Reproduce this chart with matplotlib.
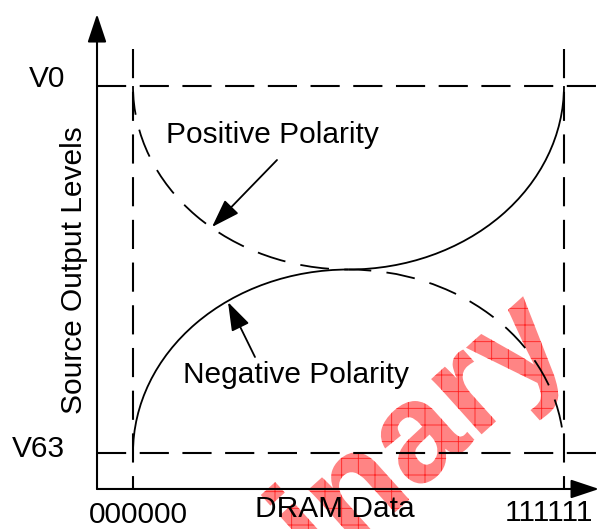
import matplotlib
matplotlib.use('Agg')
import matplotlib.pyplot as plt
from matplotlib.patches import Arc, PathPatch
from matplotlib.textpath import TextPath
from matplotlib.font_manager import FontProperties
from matplotlib import transforms

plt.rcParams['font.family'] = ['Liberation Sans', 'DejaVu Sans']
plt.rcParams['hatch.linewidth'] = 0.6
plt.rcParams['hatch.color'] = '#ff2020'

# datos del diagrama
dram_codes = [0, 63]              # 000000 .. 111111
code_labels = ['000000', '111111']
levels = [63, 0]                  # V0 arriba, V63 abajo
level_labels = ['V0', 'V63']
mid_code = (dram_codes[0] + dram_codes[1]) / 2
mid_level = (levels[0] + levels[1]) / 2

fig = plt.figure(figsize=(6.01, 5.29), dpi=100)
ax = fig.add_axes([0, 0, 1, 1])
ax.set_xlim(-19.44, 68.41)
ax.set_ylim(-13.05, 77.77)
ax.axis('off')

x0, y0 = -5.26, -6.18   # cruce de los ejes
fs = 21.5

# marca de agua
tp = TextPath((0, 0), 'Preliminary', size=102,
              prop=FontProperties(family='Liberation Sans', weight='bold'))
tr = (transforms.Affine2D().scale(1 / 72).rotate_deg(42) + fig.dpi_scale_trans
      + transforms.ScaledTranslation(-19.4, -71.2, ax.transData))
ax.add_patch(PathPatch(tp, transform=tr, facecolor='#ff8484', edgecolor='#ff2020',
                       lw=0, hatch='+', zorder=0.5))

# ejes con flecha
head = dict(arrowstyle='-|>,head_length=0.6,head_width=0.2', mutation_scale=29,
            color='k', lw=1.5, shrinkA=0, shrinkB=0)
ax.annotate('', xy=(x0, 75.36), xytext=(x0, y0), arrowprops=head)
ax.annotate('', xy=(68.12, y0), xytext=(x0, y0), arrowprops=head)

# lineas guia discontinuas
dash = (0, (14, 6.5))
for lv in levels:
    ax.plot([x0, 68.41], [lv, lv], color='k', lw=1.5, ls=dash, zorder=2)
for c in dram_codes:
    ax.plot([c, c], [69.4, y0], color='k', lw=1.5, ls=dash, zorder=2)

# curvas de polaridad
w = 2 * (mid_code - dram_codes[0])
h = 2 * (levels[0] - mid_level)
ax.add_patch(Arc((mid_code, levels[0]), w, h, theta1=180, theta2=270,
                 color='k', lw=1.3, ls=(0, (16, 8.5)), zorder=3))
ax.add_patch(Arc((mid_code, levels[1]), w, h, theta1=8, theta2=90,
                 color='k', lw=1.3, ls=(0, (16, 8.5)), zorder=3))
ax.add_patch(Arc((mid_code, levels[0]), w, h, theta1=270, theta2=360,
                 color='k', lw=1.3, zorder=3))
ax.add_patch(Arc((mid_code, levels[1]), w, h, theta1=90, theta2=180,
                 color='k', lw=1.3, zorder=3))

# flechas de las etiquetas
small = dict(arrowstyle='-|>,head_length=0.8,head_width=0.27', mutation_scale=22,
             color='k', lw=1.3, shrinkA=0, shrinkB=0)
ax.annotate('', xy=(11.55, 38.8), xytext=(21.05, 50.3), arrowprops=small)
ax.annotate('', xy=(13.89, 25.9), xytext=(17.83, 16.48), arrowprops=small)

# textos
ax.text(4.82, 53.2, 'Positive Polarity', fontsize=fs, ha='left', va='baseline')
ax.text(7.31, 12.0, 'Negative Polarity', fontsize=fs, ha='left', va='baseline')
ax.text(29.45, -11.0, 'DRAM Data', fontsize=fs, ha='center', va='baseline')
ax.text(0.73, -12.0, code_labels[0], fontsize=fs, ha='center', va='baseline')
ax.text(60.8, -11.7, code_labels[1], fontsize=fs, ha='center', va='baseline')
ax.text(-9.94, 62.8, level_labels[0], fontsize=fs, ha='right', va='baseline')
ax.text(-9.94, -0.69, level_labels[1], fontsize=fs, ha='right', va='baseline')
ax.text(-7.46, 31.4, 'Source Output Levels', fontsize=fs, rotation=90,
        rotation_mode='anchor', ha='center', va='baseline')

fig.savefig('out.png', dpi=100)
